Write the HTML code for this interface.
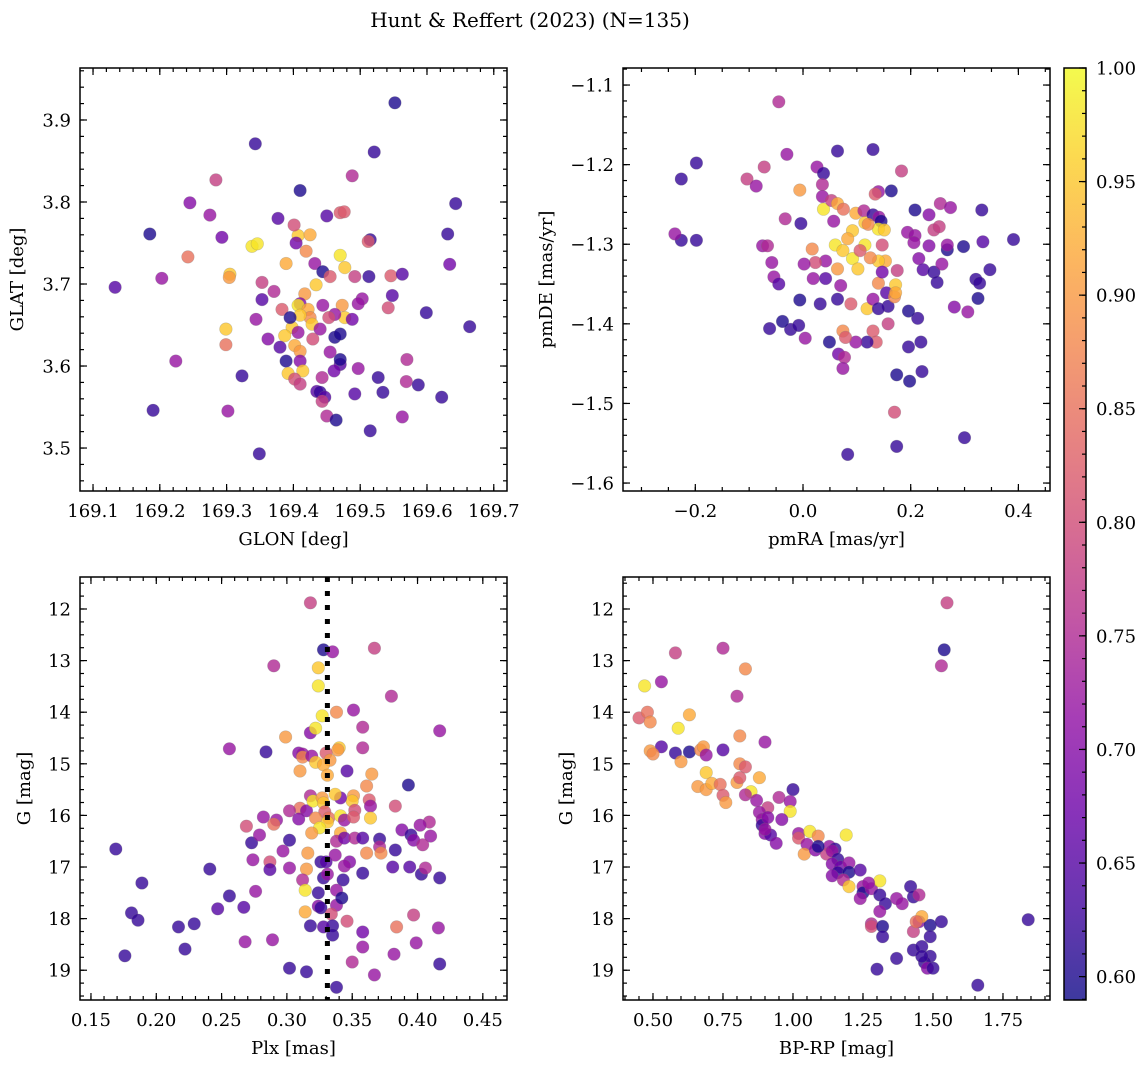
<!DOCTYPE html>
<html><head><meta charset="utf-8"><style>
html,body{margin:0;padding:0;background:#fff;}
svg{display:block;font-family:"DejaVu Serif","Liberation Serif",serif;}
</style></head><body>
<svg id="fig" width="1148" height="1067" viewBox="0 0 1148 1067" xmlns="http://www.w3.org/2000/svg">
<defs>
<linearGradient id="plasma" x1="0" y1="1" x2="0" y2="0">
<stop offset="0" stop-color="#0d0887"/><stop offset="0.1" stop-color="#41049d"/><stop offset="0.2" stop-color="#6a00a8"/><stop offset="0.3" stop-color="#8f0da4"/><stop offset="0.4" stop-color="#b12a90"/><stop offset="0.5" stop-color="#cc4778"/><stop offset="0.6" stop-color="#e16462"/><stop offset="0.7" stop-color="#f2844b"/><stop offset="0.8" stop-color="#fca636"/><stop offset="0.9" stop-color="#fcce25"/><stop offset="1" stop-color="#f0f921"/>
</linearGradient>
</defs>
<text x="530" y="27" font-size="20" text-anchor="middle">Hunt &amp; Reffert (2023) (N=135)</text>
</svg>
<script>
// ---- data: [x, y, membership probability] ----
const skyPts = [[169.552,3.921,.6],[169.343,3.871,.62],[169.521,3.861,.62],[169.488,3.832,.75],[169.410,3.814,.6],[169.284,3.827,.78],[169.245,3.799,.7],[169.185,3.761,.6],[169.275,3.784,.72],[169.293,3.757,.68],[169.377,3.780,.65],[169.242,3.733,.85],[169.203,3.707,.72],[169.133,3.696,.65],[169.305,3.712,.95],[169.304,3.708,.9],[169.338,3.746,.98],[169.346,3.749,.98],[169.407,3.759,.95],[169.425,3.760,.92],[169.401,3.772,.8],[169.404,3.750,.68],[169.419,3.740,.88],[169.389,3.725,.92],[169.432,3.725,.72],[169.444,3.715,.6],[169.455,3.709,.82],[169.477,3.720,.95],[169.470,3.735,.98],[169.470,3.787,.82],[169.476,3.788,.82],[169.450,3.783,.65],[169.515,3.754,.62],[169.512,3.752,.82],[169.513,3.709,.62],[169.492,3.709,.78],[169.546,3.710,.82],[169.563,3.712,.65],[169.542,3.671,.8],[169.548,3.686,.65],[169.503,3.682,.72],[169.473,3.674,.9],[169.477,3.659,.95],[169.488,3.657,.68],[169.497,3.676,.72],[169.462,3.663,.72],[169.434,3.699,.95],[169.417,3.688,.9],[169.410,3.676,.7],[169.383,3.669,.82],[169.407,3.674,.98],[169.422,3.669,.92],[169.425,3.659,.88],[169.444,3.674,.72],[169.453,3.659,.8],[169.428,3.651,.95],[169.410,3.662,.95],[169.398,3.647,.95],[169.407,3.641,.72],[169.387,3.637,.95],[169.429,3.633,.8],[169.440,3.645,.72],[169.462,3.635,.6],[169.470,3.639,.6],[169.402,3.625,.92],[169.410,3.618,.9],[169.362,3.633,.7],[169.353,3.681,.65],[169.371,3.691,.75],[169.353,3.702,.78],[169.344,3.657,.72],[169.299,3.645,.95],[169.299,3.626,.85],[169.395,3.659,.6],[169.380,3.623,.65],[169.389,3.606,.6],[169.410,3.606,.7],[169.392,3.591,.95],[169.414,3.594,.95],[169.402,3.584,.8],[169.410,3.578,.78],[169.435,3.569,.65],[169.440,3.568,.62],[169.447,3.562,.65],[169.443,3.557,.78],[169.443,3.586,.75],[169.470,3.602,.65],[169.470,3.608,.6],[169.461,3.594,.68],[169.497,3.597,.72],[169.455,3.617,.72],[169.492,3.566,.65],[169.450,3.539,.75],[169.464,3.534,.6],[169.515,3.521,.62],[169.527,3.586,.62],[169.534,3.568,.62],[169.569,3.581,.75],[169.587,3.577,.62],[169.563,3.538,.72],[169.570,3.608,.75],[169.599,3.665,.62],[169.631,3.761,.62],[169.643,3.798,.62],[169.634,3.724,.68],[169.664,3.648,.62],[169.622,3.562,.62],[169.323,3.588,.62],[169.224,3.606,.72],[169.190,3.546,.62],[169.302,3.545,.72],[169.349,3.493,.62]];

const pmPts = [[-0.045,-1.121,.75],[-0.226,-1.218,.62],[-0.198,-1.198,.62],[-0.226,-1.295,.62],[-0.238,-1.287,.72],[-0.198,-1.295,.62],[0.064,-1.183,.62],[0.130,-1.181,.62],[0.026,-1.203,.72],[-0.030,-1.187,.72],[0.038,-1.211,.62],[-0.072,-1.203,.78],[-0.104,-1.218,.78],[-0.087,-1.227,.72],[-0.006,-1.232,.9],[0.036,-1.225,.75],[0.036,-1.240,.72],[0.038,-1.256,.98],[0.053,-1.245,.78],[0.064,-1.249,.92],[0.098,-1.261,.92],[0.075,-1.256,.85],[0.057,-1.271,.72],[0.113,-1.258,.75],[0.115,-1.273,.95],[0.140,-1.234,.72],[0.134,-1.237,.82],[0.164,-1.233,.6],[0.183,-1.208,.78],[0.208,-1.257,.6],[0.194,-1.285,.72],[0.130,-1.263,.62],[0.141,-1.266,.72],[0.145,-1.271,.6],[0.115,-1.301,.98],[0.140,-1.281,.98],[0.121,-1.275,.88],[0.092,-1.283,.95],[0.083,-1.293,.92],[0.060,-1.301,.98],[0.074,-1.308,.95],[0.092,-1.318,.98],[0.106,-1.308,.82],[0.151,-1.282,.95],[0.147,-1.301,.8],[0.153,-1.321,.92],[0.140,-1.321,.95],[0.125,-1.317,.88],[0.102,-1.331,.95],[0.064,-1.331,.9],[0.042,-1.321,.72],[0.017,-1.306,.88],[0.023,-1.323,.8],[0.019,-1.343,.72],[0.002,-1.325,.72],[0.042,-1.343,.65],[0.070,-1.352,.72],[0.064,-1.369,.62],[0.089,-1.375,.82],[0.119,-1.381,.95],[0.140,-1.349,.88],[0.147,-1.335,.68],[0.175,-1.333,.78],[0.155,-1.361,.65],[0.158,-1.378,.62],[0.158,-1.400,.78],[0.170,-1.366,.88],[0.172,-1.351,.95],[0.172,-1.361,.92],[0.130,-1.369,.72],[0.140,-1.381,.62],[0.130,-1.409,.82],[0.136,-1.423,.82],[0.119,-1.423,.62],[0.098,-1.423,.72],[0.074,-1.409,.88],[0.079,-1.417,.82],[0.049,-1.423,.6],[0.066,-1.438,.68],[0.077,-1.442,.75],[0.074,-1.456,.72],[0.234,-1.263,.7],[0.208,-1.289,.72],[0.243,-1.282,.78],[0.234,-1.302,.7],[0.206,-1.298,.72],[0.215,-1.318,.7],[0.223,-1.332,.65],[0.243,-1.335,.62],[0.258,-1.325,.72],[0.249,-1.348,.62],[0.268,-1.307,.6],[0.253,-1.278,.78],[0.255,-1.249,.75],[0.274,-1.254,.72],[0.268,-1.301,.72],[0.298,-1.303,.6],[0.281,-1.379,.7],[0.321,-1.344,.62],[0.328,-1.349,.62],[0.325,-1.368,.6],[0.347,-1.332,.62],[0.332,-1.257,.62],[0.334,-1.297,.65],[0.391,-1.294,.62],[0.306,-1.385,.72],[0.213,-1.393,.62],[0.196,-1.384,.6],[0.219,-1.423,.62],[0.196,-1.429,.62],[0.174,-1.464,.6],[0.198,-1.472,.6],[0.221,-1.460,.62],[0.300,-1.543,.62],[0.174,-1.554,.62],[0.083,-1.564,.62],[0.170,-1.511,.8],[-0.075,-1.302,.72],[-0.066,-1.302,.75],[-0.058,-1.323,.72],[-0.054,-1.341,.72],[-0.045,-1.350,.65],[-0.023,-1.407,.62],[-0.062,-1.406,.62],[-0.038,-1.397,.6],[0.004,-1.418,.72],[-0.008,-1.402,.62],[0.032,-1.375,.62],[-0.006,-1.370,.6],[-0.033,-1.268,.75],[-0.004,-1.274,.62]];

const plxPts = [[.318,11.88,.78],[.328,12.79,.6],[.335,12.83,.72],[.367,12.76,.78],[.290,13.10,.75],[.324,13.14,.95],[.324,13.49,.98],[.380,13.69,.75],[.327,14.07,.98],[.338,14.0,.88],[.351,13.96,.72],[.318,14.40,.7],[.322,14.31,.98],[.417,14.36,.72],[.358,14.29,.75],[.358,14.69,.75],[.340,14.69,.95],[.339,14.73,.9],[.299,14.48,.9],[.256,14.71,.72],[.284,14.77,.62],[.309,14.79,.7],[.312,14.81,.72],[.312,14.87,.88],[.319,14.85,.72],[.330,14.79,.82],[.333,14.93,.9],[.322,14.97,.95],[.328,15.02,.92],[.310,15.14,.9],[.331,15.22,.92],[.346,15.14,.65],[.365,15.20,.9],[.361,15.43,.88],[.351,15.62,.9],[.350,15.72,.95],[.341,15.66,.68],[.393,15.41,.6],[.318,15.62,.75],[.310,15.86,.85],[.315,15.91,.7],[.302,15.91,.75],[.320,15.72,.98],[.327,15.66,.9],[.328,15.76,.95],[.337,15.59,.95],[.329,15.93,.82],[.322,16.05,.88],[.332,16.05,.85],[.331,16.13,.95],[.341,16.01,.98],[.352,15.90,.8],[.344,16.09,.72],[.351,16.03,.82],[.363,15.70,.82],[.364,15.82,.72],[.383,15.82,.8],[.364,16.05,.95],[.282,16.03,.72],[.292,16.09,.72],[.309,16.07,.7],[.325,16.24,.98],[.319,16.34,.9],[.341,16.34,.92],[.338,16.50,.75],[.344,16.44,.68],[.352,16.44,.75],[.371,16.46,.62],[.358,16.44,.65],[.371,16.61,.75],[.388,16.28,.7],[.395,16.38,.62],[.410,16.40,.72],[.409,16.13,.75],[.402,16.19,.72],[.397,16.48,.7],[.404,16.57,.75],[.383,16.67,.62],[.348,16.90,.7],[.344,16.98,.72],[.326,16.90,.62],[.330,16.90,.65],[.337,16.77,.72],[.361,16.73,.88],[.372,16.73,.88],[.316,16.73,.9],[.297,16.69,.72],[.302,16.48,.62],[.290,16.17,.85],[.269,16.21,.8],[.273,16.53,.62],[.279,16.38,.72],[.274,16.86,.72],[.287,16.90,.8],[.287,17.05,.65],[.315,17.04,.9],[.302,17.02,.72],[.312,17.25,.75],[.328,17.21,.62],[.331,17.14,.72],[.343,17.25,.62],[.358,17.12,.62],[.381,17.0,.65],[.394,17.0,.65],[.403,17.14,.62],[.406,17.02,.75],[.417,17.21,.62],[.314,17.45,.98],[.324,17.50,.62],[.338,17.45,.72],[.324,17.76,.7],[.314,17.87,.92],[.326,17.79,.62],[.338,17.74,.72],[.334,17.91,.8],[.342,17.60,.6],[.335,18.14,.62],[.346,18.05,.8],[.335,18.32,.62],[.328,18.16,.65],[.318,18.14,.62],[.384,18.16,.85],[.358,18.26,.68],[.358,18.55,.72],[.350,18.84,.75],[.367,19.09,.72],[.382,18.69,.72],[.397,17.93,.78],[.416,18.18,.72],[.417,18.88,.62],[.399,18.47,.72],[.315,19.03,.62],[.302,18.96,.62],[.338,19.33,.62],[.289,18.41,.72],[.268,18.45,.72],[.256,17.56,.62],[.267,17.78,.65],[.276,17.47,.72],[.169,16.65,.62],[.189,17.31,.62],[.181,17.89,.62],[.186,18.03,.62],[.176,18.72,.62],[.217,18.16,.62],[.222,18.59,.62],[.229,18.10,.62],[.241,17.04,.62],[.247,17.81,.65]];

const cmdPts = [[1.55,11.88,.78],[1.54,12.79,.6],[1.53,13.10,.75],[0.75,12.76,.75],[0.58,12.85,.78],[0.83,13.16,.88],[0.47,13.49,.98],[0.53,13.41,.72],[0.80,13.69,.75],[0.45,14.11,.82],[0.48,14.0,.85],[0.63,14.05,.92],[0.59,14.31,.98],[0.49,14.19,.88],[0.81,14.46,.88],[0.90,14.58,.72],[0.53,14.67,.65],[0.49,14.75,.9],[0.50,14.81,.88],[0.58,14.79,.62],[0.63,14.77,.6],[0.67,14.73,.88],[0.68,14.67,.9],[0.69,14.83,.72],[0.75,14.73,.65],[0.60,14.96,.9],[0.81,15.0,.88],[0.83,15.06,.82],[0.69,15.17,.95],[0.66,15.44,.9],[0.69,15.50,.9],[0.71,15.38,.92],[0.74,15.40,.85],[0.80,15.36,.9],[0.81,15.27,.82],[0.88,15.27,.92],[0.85,15.54,.98],[0.75,15.61,.82],[0.76,15.75,.9],[0.83,15.60,.75],[0.91,15.85,.78],[0.87,15.71,.72],[0.88,15.94,.72],[0.95,15.65,.75],[1.00,15.50,.62],[0.99,15.73,.72],[0.99,15.92,.98],[0.89,16.08,.72],[0.89,16.19,.62],[0.91,16.04,.7],[0.96,16.08,.7],[0.90,16.35,.7],[0.92,16.38,.65],[0.94,16.54,.7],[0.90,16.27,.72],[1.02,16.35,.72],[1.06,16.31,.98],[1.09,16.40,.88],[1.02,16.44,.82],[1.05,16.56,.72],[1.04,16.75,.9],[1.08,16.67,.7],[1.13,16.60,.72],[1.15,16.65,.62],[1.19,16.38,.98],[1.12,16.75,.78],[1.14,16.69,.72],[1.09,16.60,.6],[1.16,16.85,.62],[1.14,16.94,.7],[1.17,17.0,.68],[1.16,17.11,.62],[1.14,17.17,.7],[1.20,16.92,.72],[1.20,17.10,.6],[1.18,17.25,.75],[1.20,17.38,.95],[1.24,17.06,.65],[1.25,17.38,.72],[1.25,17.50,.6],[1.24,17.61,.72],[1.28,17.42,.72],[1.31,17.27,.98],[1.27,17.31,.72],[1.31,17.54,.62],[1.33,17.71,.62],[1.31,17.86,.72],[1.28,18.10,.75],[1.28,18.15,.8],[1.32,18.15,.6],[1.37,17.61,.72],[1.39,17.71,.72],[1.42,17.38,.62],[1.43,17.58,.62],[1.45,17.54,.75],[1.45,18.06,.7],[1.43,18.25,.78],[1.49,18.13,.6],[1.32,18.35,.62],[1.30,18.98,.62],[1.37,18.77,.62],[1.43,18.61,.62],[1.46,18.54,.62],[1.49,18.73,.62],[1.47,18.85,.62],[1.48,18.96,.7],[1.46,18.73,.62],[1.49,18.35,.62],[1.46,17.96,.92],[1.44,18.06,.85],[1.53,18.06,.62],[1.84,18.02,.62],[1.66,19.29,.62],[1.50,18.96,.62]];

// tick label arrays
const glonTicks = [169.1,169.2,169.3,169.4,169.5,169.6,169.7];
const glatTicks = [3.5,3.6,3.7,3.8,3.9];
const pmraTicks = [-0.2,0.0,0.2,0.4];
const pmdeTicks = [-1.1,-1.2,-1.3,-1.4,-1.5,-1.6];
const plxTicks = [0.15,0.20,0.25,0.30,0.35,0.40,0.45];
const gTicks = [12,13,14,15,16,17,18,19];
const bprpTicks = [0.50,0.75,1.00,1.25,1.50,1.75];
const cbarTicks = [0.60,0.65,0.70,0.75,0.80,0.85,0.90,0.95,1.00];
const clusterPlx = 0.331;
const probMin = 0.5897, probMax = 1.0;

const NS = 'http://www.w3.org/2000/svg';
const svg = document.getElementById('fig');
const FS = 18;
function mk(tag, attrs, parent){ const e=document.createElementNS(NS,tag); for(const k in attrs) e.setAttribute(k,attrs[k]); (parent||svg).appendChild(e); return e; }

const stops=[[0,[13,8,135]],[.1,[65,4,157]],[.2,[106,0,168]],[.3,[143,13,164]],[.4,[177,42,144]],[.5,[204,71,120]],[.6,[225,100,98]],[.7,[242,132,75]],[.8,[252,166,54]],[.9,[252,206,37]],[1,[240,249,33]]];
function plasma(p){ let t=(p-probMin)/(probMax-probMin); t=Math.max(0,Math.min(1,t));
  for(let i=1;i<stops.length;i++){ if(t<=stops[i][0]){ const a=stops[i-1],b=stops[i]; const f=(t-a[0])/(b[0]-a[0]);
    return 'rgb('+[0,1,2].map(j=>Math.round(a[1][j]+f*(b[1][j]-a[1][j]))).join(',')+')'; } } return 'rgb(240,249,33)'; }
function fmt(v,d){ const s=Math.abs(v).toFixed(d); return (v<-1e-9?'\u2212':'')+s; }

function panel(c){
  const g=mk('g',{});
  
  
  const W=c.px1-c.px0, H=c.py1-c.py0;
  const sx=v=>c.px0+(v-c.xmin)/(c.xmax-c.xmin)*W;
  const sy=v=>c.py0+(v-c.ytop)/(c.ybot-c.ytop)*H;
  const pg=mk('g',{},g);
  
  
  c.data.forEach(d=>{
    const e=mk('circle',{cx:sx(d[0]).toFixed(1),cy:sy(d[1]).toFixed(1),r:6.3,fill:plasma(d[2]),'fill-opacity':0.8,stroke:'#777','stroke-opacity':0.35,'stroke-width':0.6},pg);
    
    
  });
  if(c.vline!==undefined){
    const l=mk('line',{x1:sx(c.vline),x2:sx(c.vline),y1:c.py0,y2:c.py1,stroke:'#000','stroke-width':5,'stroke-dasharray':'5,9'},g);
    
    
  }
  const tk=mk('g',{stroke:'#000','stroke-width':1.2},g);
  
  
  const xlo=Math.min(c.xmin,c.xmax), xhi=Math.max(c.xmin,c.xmax);
  for(let v=Math.ceil(xlo/c.xminor-1e-6)*c.xminor; v<=xhi+1e-9; v+=c.xminor){ const x=sx(v);
    mk('line',{x1:x,x2:x,y1:c.py1,y2:c.py1-4},tk); mk('line',{x1:x,x2:x,y1:c.py0,y2:c.py0+4},tk); }
  const ylo=Math.min(c.ytop,c.ybot), yhi=Math.max(c.ytop,c.ybot);
  for(let v=Math.ceil(ylo/c.yminor-1e-6)*c.yminor; v<=yhi+1e-9; v+=c.yminor){ const y=sy(v);
    mk('line',{x1:c.px0,x2:c.px0+4,y1:y,y2:y},tk); mk('line',{x1:c.px1,x2:c.px1-4,y1:y,y2:y},tk); }
  c.xticks.forEach(v=>{ const x=sx(v);
    mk('line',{x1:x,x2:x,y1:c.py1,y2:c.py1-7},tk); mk('line',{x1:x,x2:x,y1:c.py0,y2:c.py0+7},tk);
    const t=mk('text',{x:x,y:c.py1+26,'font-size':FS,'text-anchor':'middle'},g); t.textContent=fmt(v,c.xdec);
    
     });
  c.yticks.forEach(v=>{ const y=sy(v);
    mk('line',{x1:c.px0,x2:c.px0+7,y1:y,y2:y},tk); mk('line',{x1:c.px1,x2:c.px1-7,y1:y,y2:y},tk);
    const t=mk('text',{x:c.px0-9,y:y+6.5,'font-size':FS,'text-anchor':'end'},g); t.textContent=fmt(v,c.ydec);
    
     });
  const fr=mk('rect',{x:c.px0,y:c.py0,width:W,height:H,fill:'none',stroke:'#000','stroke-width':1.5},g);
  
  
  const xl=mk('text',{x:(c.px0+c.px1)/2,y:c.py1+54,'font-size':FS,'text-anchor':'middle'},g); xl.textContent=c.xlabel;
  
  
  const yx=c.ylx, yy=(c.py0+c.py1)/2;
  const yl=mk('text',{x:yx,y:yy,'font-size':FS,'text-anchor':'middle',transform:'rotate(-90 '+yx+' '+yy+')'},g); yl.textContent=c.ylabel;
  
  
}

panel({name:'sky-panel',data:skyPts,px0:80,px1:507,py0:68,py1:491,xmin:169.0805,xmax:169.7198,ytop:3.9634,ybot:3.4476,xticks:glonTicks,yticks:glatTicks,xminor:0.02,yminor:0.02,xdec:1,ydec:1,xlabel:'GLON [deg]',ylabel:'GLAT [deg]',ylx:23});
panel({name:'proper-motion-panel',data:pmPts,px0:623,px1:1050,py0:68,py1:491,xmin:-0.3343,xmax:0.4587,ytop:-1.0786,ybot:-1.61,xticks:pmraTicks,yticks:pmdeTicks,xminor:0.05,yminor:0.02,xdec:1,ydec:1,xlabel:'pmRA [mas/yr]',ylabel:'pmDE [mas/yr]',ylx:552});
panel({name:'parallax-panel',data:plxPts,px0:80,px1:507,py0:577,py1:1000,xmin:0.1416,xmax:0.4685,ytop:11.380,ybot:19.577,xticks:plxTicks,yticks:gTicks,xminor:0.01,yminor:0.25,xdec:2,ydec:0,xlabel:'Plx [mas]',ylabel:'G [mag]',ylx:30,vline:clusterPlx});
panel({name:'cmd-panel',data:cmdPts,px0:623,px1:1050,py0:577,py1:1000,xmin:0.3929,xmax:1.9179,ytop:11.380,ybot:19.577,xticks:bprpTicks,yticks:gTicks,xminor:0.05,yminor:0.25,xdec:2,ydec:0,xlabel:'BP-RP [mag]',ylabel:'G [mag]',ylx:572});

(function(){
  const x0=1064,x1=1086,y0=68,y1=1000;
  const cg=mk('g',{});
  
  
  const r=mk('rect',{x:x0,y:y0,width:x1-x0,height:y1-y0,fill:'url(#plasma)','fill-opacity':0.8},cg);
  
  
  const sy=v=>y1-(v-probMin)/(probMax-probMin)*(y1-y0);
  for(let v=0.59; v<=1.0001; v+=0.01){ const y=sy(v); mk('line',{x1:x1,x2:x1-4,y1:y,y2:y,stroke:'#000','stroke-width':1.2},cg); }
  cbarTicks.forEach(v=>{ const y=sy(v);
    mk('line',{x1:x1,x2:x1-7,y1:y,y2:y,stroke:'#000','stroke-width':1.2},cg);
    const t=mk('text',{x:x1+10,y:y+6.5,'font-size':FS},cg); t.textContent=v.toFixed(2);
    
     });
  const fr=mk('rect',{x:x0,y:y0,width:x1-x0,height:y1-y0,fill:'none',stroke:'#000','stroke-width':1.5},cg);
  
  
})();
</script>
</body></html>
